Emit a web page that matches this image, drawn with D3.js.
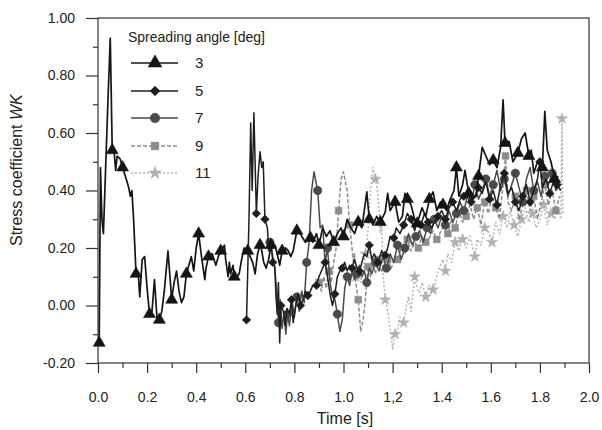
<!DOCTYPE html>
<html><head><meta charset="utf-8">
<script src="https://cdn.jsdelivr.net/npm/d3@7"></script>
<style>
body{margin:0;background:#fff;}
svg{display:block;font-family:"Liberation Sans",Arial,sans-serif;}
</style></head>
<body>
<svg id="c" width="602" height="430"></svg>
<script>
// ---- data (time [s], WK) ----
const xTickValues = [0,0.2,0.4,0.6,0.8,1.0,1.2,1.4,1.6,1.8,2.0];
const xTickLabels = ["0.0","0.2","0.4","0.6","0.8","1.0","1,2","1.4","1.6","1.8","2.0"];
const yTickValues = [-0.2,0,0.2,0.4,0.6,0.8,1.0];
const yTickLabels = ["-0.20","0.00","0.20","0.40","0.60","0.80","1.00"];
const seriesNames = ["3","5","7","9","11"];

const s3 = [[0.005,-0.13],[0.01,0.48],[0.016,0.30],[0.022,0.25],[0.03,0.45],[0.04,0.70],[0.05,0.93],[0.058,0.54],[0.065,0.54],[0.072,0.47],[0.078,0.52],[0.09,0.51],[0.1,0.48],[0.115,0.44],[0.125,0.41],[0.132,0.38],[0.138,0.40],[0.145,0.30],[0.155,0.11],[0.165,0.10],[0.17,0.03],[0.18,0.16],[0.19,0.17],[0.2,0.06],[0.21,-0.03],[0.22,-0.02],[0.23,0.09],[0.24,-0.04],[0.25,-0.05],[0.26,-0.02],[0.27,0.05],[0.285,0.19],[0.295,0.08],[0.3,0.02],[0.31,0.08],[0.32,0.12],[0.33,0.05],[0.34,0.01],[0.35,0.03],[0.36,0.11],[0.37,0.14],[0.38,0.17],[0.39,0.12],[0.40,0.20],[0.41,0.25],[0.42,0.18],[0.435,0.09],[0.44,0.13],[0.45,0.17],[0.465,0.18],[0.48,0.14],[0.49,0.17],[0.5,0.19],[0.515,0.21],[0.52,0.16],[0.53,0.10],[0.535,0.15],[0.54,0.11],[0.55,0.14],[0.555,0.10],[0.565,0.10],[0.575,0.11],[0.585,0.16],[0.595,0.20],[0.61,0.19],[0.62,0.17],[0.63,0.15],[0.64,0.11],[0.65,0.18],[0.66,0.21],[0.665,0.20],[0.675,0.15],[0.685,0.13],[0.695,0.16],[0.705,0.21],[0.715,0.20],[0.72,0.21],[0.73,0.18],[0.74,0.14],[0.75,0.19],[0.765,0.20],[0.775,0.19],[0.785,0.17],[0.795,0.19],[0.81,0.26],[0.82,0.26],[0.83,0.24],[0.845,0.22],[0.865,0.235],[0.875,0.22],[0.89,0.25],[0.9,0.21],[0.915,0.27],[0.93,0.24],[0.945,0.26],[0.96,0.22],[0.975,0.25],[0.99,0.27],[1.0,0.24],[1.015,0.30],[1.03,0.27],[1.045,0.25],[1.06,0.29],[1.075,0.27],[1.095,0.395],[1.105,0.30],[1.11,0.30],[1.12,0.28],[1.135,0.31],[1.15,0.29],[1.17,0.325],[1.18,0.39],[1.19,0.33],[1.21,0.36],[1.225,0.29],[1.24,0.31],[1.25,0.39],[1.26,0.37],[1.275,0.35],[1.29,0.30],[1.30,0.285],[1.32,0.34],[1.335,0.31],[1.35,0.37],[1.365,0.395],[1.38,0.33],[1.395,0.36],[1.405,0.35],[1.42,0.33],[1.435,0.37],[1.45,0.40],[1.46,0.48],[1.47,0.38],[1.485,0.42],[1.495,0.47],[1.51,0.39],[1.525,0.37],[1.54,0.38],[1.55,0.45],[1.565,0.55],[1.58,0.52],[1.595,0.49],[1.61,0.505],[1.625,0.48],[1.64,0.55],[1.65,0.715],[1.658,0.565],[1.675,0.57],[1.69,0.50],[1.71,0.53],[1.725,0.58],[1.74,0.60],[1.755,0.52],[1.765,0.54],[1.775,0.46],[1.79,0.50],[1.81,0.48],[1.82,0.675],[1.83,0.54],[1.845,0.50],[1.86,0.44],[1.875,0.45]];

const s5 = [[0.605,-0.05],[0.615,0.30],[0.622,0.635],[0.628,0.40],[0.635,0.67],[0.645,0.32],[0.652,0.45],[0.66,0.535],[0.667,0.48],[0.673,0.50],[0.68,0.30],[0.69,0.27],[0.695,0.19],[0.705,0.22],[0.712,0.15],[0.72,0.135],[0.725,0.03],[0.73,-0.03],[0.735,0.08],[0.74,-0.13],[0.745,0.0],[0.755,-0.02],[0.762,-0.07],[0.77,-0.01],[0.78,-0.03],[0.788,0.02],[0.795,-0.06],[0.805,0.0],[0.815,0.04],[0.825,0.0],[0.835,0.02],[0.845,0.05],[0.855,0.035],[0.865,0.05],[0.875,0.07],[0.89,0.07],[0.90,0.10],[0.91,0.12],[0.925,0.15],[0.935,0.10],[0.945,0.04],[0.955,0.0],[0.965,0.04],[0.975,0.10],[0.985,0.12],[0.995,0.13],[1.005,0.15],[1.015,0.12],[1.025,0.14],[1.035,0.13],[1.045,0.16],[1.055,0.13],[1.065,0.12],[1.075,0.15],[1.085,0.18],[1.095,0.17],[1.105,0.21],[1.115,0.16],[1.125,0.18],[1.14,0.15],[1.155,0.19],[1.17,0.175],[1.18,0.20],[1.19,0.24],[1.205,0.235],[1.215,0.27],[1.23,0.25],[1.245,0.28],[1.26,0.32],[1.275,0.30],[1.29,0.26],[1.30,0.30],[1.315,0.28],[1.33,0.32],[1.345,0.29],[1.36,0.27],[1.37,0.29],[1.385,0.31],[1.40,0.33],[1.415,0.30],[1.43,0.34],[1.445,0.36],[1.46,0.33],[1.475,0.37],[1.49,0.38],[1.505,0.40],[1.52,0.36],[1.535,0.38],[1.55,0.41],[1.565,0.39],[1.58,0.43],[1.595,0.37],[1.61,0.40],[1.625,0.35],[1.64,0.42],[1.655,0.46],[1.67,0.39],[1.685,0.41],[1.70,0.36],[1.715,0.33],[1.73,0.38],[1.745,0.42],[1.76,0.36],[1.775,0.40],[1.79,0.44],[1.80,0.50],[1.81,0.41],[1.825,0.44],[1.84,0.39],[1.855,0.43],[1.87,0.42],[1.885,0.40]];

const s7 = [[0.70,0.22],[0.71,0.18],[0.72,0.13],[0.728,0.05],[0.735,-0.06],[0.742,0.02],[0.75,-0.08],[0.758,-0.02],[0.765,-0.10],[0.772,-0.03],[0.78,-0.07],[0.79,0.02],[0.80,-0.04],[0.81,0.03],[0.82,-0.02],[0.83,0.05],[0.84,0.01],[0.85,0.15],[0.86,0.22],[0.87,0.40],[0.88,0.465],[0.89,0.42],[0.895,0.40],[0.905,0.27],[0.915,0.28],[0.925,0.15],[0.935,0.20],[0.945,0.08],[0.955,0.03],[0.965,0.02],[0.975,-0.03],[0.985,-0.09],[0.995,-0.05],[1.005,0.06],[1.015,0.10],[1.025,0.07],[1.035,0.12],[1.045,0.09],[1.055,0.11],[1.065,0.14],[1.075,0.10],[1.085,0.12],[1.095,0.08],[1.105,0.13],[1.115,0.11],[1.13,0.15],[1.145,0.12],[1.16,0.17],[1.175,0.13],[1.19,0.18],[1.205,0.15],[1.22,0.21],[1.235,0.16],[1.25,0.20],[1.265,0.25],[1.28,0.21],[1.295,0.24],[1.31,0.26],[1.325,0.22],[1.34,0.27],[1.355,0.25],[1.37,0.30],[1.385,0.27],[1.40,0.31],[1.415,0.28],[1.43,0.33],[1.445,0.29],[1.46,0.32],[1.475,0.36],[1.49,0.33],[1.505,0.38],[1.52,0.35],[1.535,0.42],[1.55,0.37],[1.565,0.40],[1.58,0.44],[1.595,0.38],[1.61,0.42],[1.625,0.47],[1.64,0.40],[1.655,0.44],[1.67,0.38],[1.685,0.42],[1.70,0.46],[1.715,0.41],[1.73,0.36],[1.745,0.44],[1.76,0.48],[1.775,0.40],[1.79,0.43],[1.805,0.38],[1.82,0.45],[1.835,0.42],[1.85,0.46],[1.865,0.40],[1.88,0.42]];

const s9 = [[0.90,0.08],[0.91,0.05],[0.92,0.10],[0.93,0.06],[0.94,0.12],[0.95,0.08],[0.96,0.15],[0.97,0.20],[0.98,0.33],[0.99,0.44],[1.0,0.465],[1.01,0.42],[1.015,0.40],[1.025,0.28],[1.03,0.24],[1.04,0.15],[1.045,0.18],[1.05,0.08],[1.06,0.02],[1.07,-0.09],[1.08,-0.05],[1.09,0.03],[1.10,0.135],[1.11,0.10],[1.12,0.15],[1.13,0.11],[1.14,0.16],[1.155,0.12],[1.17,0.15],[1.18,0.16],[1.195,0.13],[1.21,0.17],[1.22,0.16],[1.235,0.20],[1.25,0.18],[1.26,0.23],[1.275,0.19],[1.29,0.22],[1.305,0.20],[1.32,0.24],[1.335,0.22],[1.35,0.235],[1.365,0.26],[1.38,0.23],[1.395,0.255],[1.41,0.28],[1.425,0.25],[1.44,0.30],[1.455,0.27],[1.47,0.33],[1.485,0.29],[1.50,0.31],[1.515,0.35],[1.53,0.30],[1.545,0.34],[1.56,0.28],[1.575,0.36],[1.59,0.32],[1.605,0.38],[1.62,0.34],[1.635,0.30],[1.65,0.42],[1.66,0.52],[1.67,0.36],[1.685,0.33],[1.70,0.38],[1.715,0.30],[1.73,0.35],[1.745,0.40],[1.76,0.33],[1.775,0.38],[1.79,0.30],[1.805,0.36],[1.82,0.42],[1.835,0.35],[1.85,0.40],[1.865,0.33],[1.88,0.38]];

const s11 = [[1.05,0.10],[1.06,0.14],[1.07,0.08],[1.08,0.12],[1.09,0.18],[1.10,0.26],[1.11,0.40],[1.12,0.48],[1.13,0.44],[1.14,0.39],[1.15,0.25],[1.155,0.30],[1.16,0.12],[1.17,0.02],[1.18,-0.02],[1.19,-0.08],[1.20,-0.15],[1.21,-0.10],[1.22,-0.085],[1.23,-0.04],[1.245,-0.06],[1.255,-0.005],[1.265,0.03],[1.275,-0.02],[1.29,0.10],[1.30,0.06],[1.31,0.045],[1.32,0.08],[1.335,0.03],[1.35,0.07],[1.365,0.055],[1.38,0.10],[1.39,0.13],[1.405,0.16],[1.415,0.12],[1.425,0.18],[1.44,0.15],[1.455,0.22],[1.47,0.19],[1.485,0.23],[1.50,0.20],[1.515,0.24],[1.535,0.17],[1.545,0.23],[1.56,0.21],[1.575,0.27],[1.59,0.26],[1.605,0.22],[1.62,0.29],[1.635,0.25],[1.65,0.31],[1.665,0.27],[1.68,0.33],[1.695,0.28],[1.71,0.24],[1.725,0.30],[1.74,0.34],[1.755,0.29],[1.77,0.32],[1.785,0.27],[1.80,0.30],[1.815,0.35],[1.83,0.28],[1.845,0.32],[1.86,0.30],[1.875,0.34],[1.885,0.30],[1.89,0.65],[1.893,0.32]];

// ---- styling ----
const series = [
  {name:"3", data:s3, color:"#151515", width:1.7, dash:null, sym:d3.symbolTriangle, size:62, rot:0, step:0.05, off:0.05},
  {name:"5", data:s5, color:"#1e1e1e", width:1.5, dash:null, sym:d3.symbolSquare, size:36, rot:45, step:0.035, off:0.04},
  {name:"7", data:s7, color:"#4a4a4a", width:1.5, dash:null, sym:d3.symbolCircle, size:55, rot:0, step:0.04, off:0.035},
  {name:"9", data:s9, color:"#8c8c8c", width:1.5, dash:"4,2", sym:d3.symbolSquare, size:45, rot:0, step:0.04, off:0.04},
  {name:"11", data:s11, color:"#b0b0b0", width:1.4, dash:"2,2", sym:d3.symbolStar, size:38, rot:0, step:0.04, off:0.04}
];

const svg = d3.select("#c");
const x = d3.scaleLinear().domain([0,2]).range([98,589]);
const y = d3.scaleLinear().domain([-0.2,1.0]).range([363,18]);

// axes
const minorX = d3.range(0,21).map(i=>i/10).filter(v=>Math.round(v*10)%2===1);
const minorY = d3.range(-2,11).map(i=>i/10).filter(v=>Math.abs(Math.round(v*10))%2===1);
const axCol = "#333";

svg.append("g").attr("transform","translate(0,363)")
  .call(d3.axisBottom(x).tickValues(xTickValues).tickSize(10).tickPadding(19)
    .tickFormat((d,i)=>xTickLabels[i]));
svg.append("g").attr("transform","translate(0,363)")
  .call(d3.axisBottom(x).tickValues(minorX).tickSize(5).tickFormat(""));
svg.append("g").attr("transform","translate(98,0)")
  .call(d3.axisLeft(y).tickValues(yTickValues).tickSize(12).tickPadding(11)
    .tickFormat((d,i)=>yTickLabels[i]));
svg.append("g").attr("transform","translate(98,0)")
  .call(d3.axisLeft(y).tickValues(minorY).tickSize(5).tickFormat(""));
svg.selectAll(".domain").remove();
svg.selectAll(".tick line").attr("stroke",axCol).attr("stroke-width",1.2);
svg.selectAll(".tick text").attr("fill","#222").style("font-size","14px")
  .style("font-family","'Liberation Sans',Arial,sans-serif");

// frame
svg.append("rect").attr("x",x(0)).attr("y",y(1.0)).attr("width",x(2)-x(0)).attr("height",y(-0.2)-y(1.0))
  .attr("fill","none").attr("stroke",axCol).attr("stroke-width",1.2);

// lines + markers
const line = d3.line().x(d=>x(d[0])).y(d=>y(d[1]));
const plot = svg.append("g");
[...series].reverse().forEach(s=>{
  plot.append("path").datum(s.data).attr("d",line).attr("fill","none")
    .attr("stroke",s.color).attr("stroke-width",s.width)
    .attr("stroke-dasharray",s.dash).attr("stroke-linejoin","round");
  const t0 = s.data[0][0], t1 = s.data[s.data.length-1][0];
  const grid = [t0, ...d3.range(t0+s.off, t1+1e-9, s.step)];
  const idx = new Set(grid.map(t=>d3.leastIndex(s.data,d=>Math.abs(d[0]-t))));
  const pts = [...idx].map(i=>s.data[i]);
  plot.selectAll(null).data(pts).join("path")
    .attr("d",d3.symbol(s.sym, s.size))
    .attr("transform",d=>`translate(${x(d[0])},${y(d[1])}) rotate(${s.rot})`)
    .attr("fill",s.color).attr("stroke",s.color).attr("stroke-width",0.6);
});

// axis titles
svg.append("text").attr("x",345).attr("y",424).attr("text-anchor","middle")
  .style("font-size","16px").attr("fill","#222").text("Time [s]");
const yt = svg.append("text").attr("transform","translate(22,246) rotate(-90)")
  .attr("text-anchor","start").style("font-size","16px").attr("fill","#222");
yt.append("tspan").text("Stress coefficient ");
yt.append("tspan").style("font-style","italic").text("WK");

// legend
const lg = svg.append("g");
lg.append("text").attr("x",128).attr("y",42).style("font-size","14px").attr("fill","#222")
  .text("Spreading angle [deg]");
const rowsY = [63,91,118,146,173];
series.forEach((s,i)=>{
  const ry = rowsY[i];
  lg.append("line").attr("x1",131).attr("x2",178).attr("y1",ry).attr("y2",ry)
    .attr("stroke",s.color).attr("stroke-width",s.width).attr("stroke-dasharray",s.dash);
  lg.append("path").attr("d",d3.symbol(s.sym, s.size*1.3)).attr("transform",`translate(155,${ry}) rotate(${s.rot})`)
    .attr("fill",s.color).attr("stroke",s.color).attr("stroke-width",0.6);
  lg.append("text").attr("x",195).attr("y",ry+5).style("font-size","15px").attr("fill","#222").text(seriesNames[i]);
});
</script>
</body></html>
